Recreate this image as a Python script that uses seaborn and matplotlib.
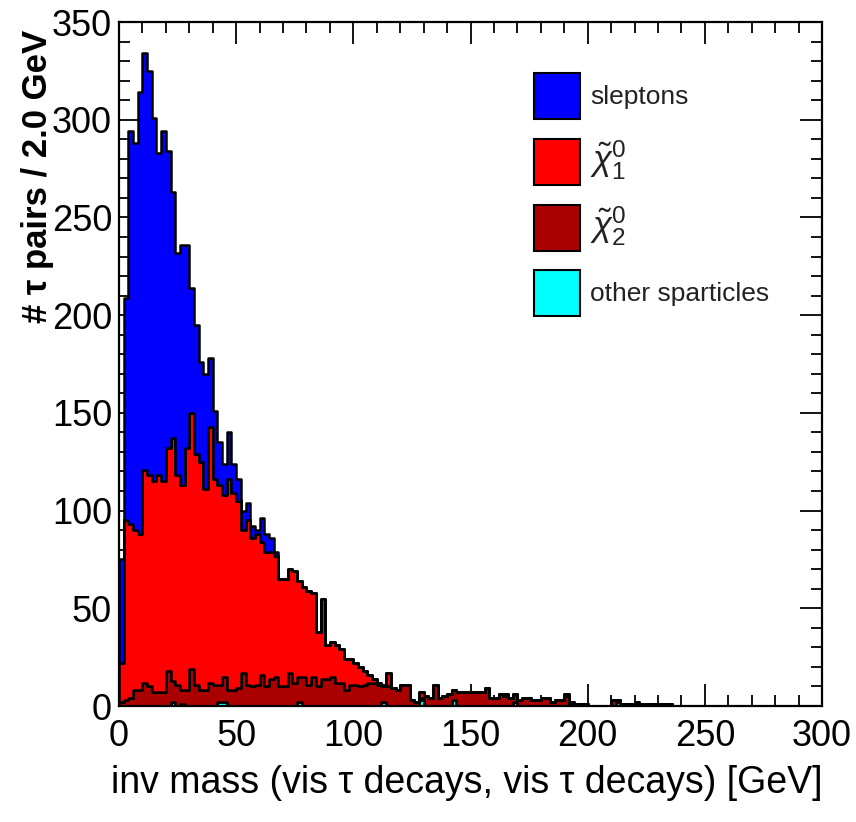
import numpy as np
import pandas as pd
import matplotlib
matplotlib.use("Agg")
import matplotlib.pyplot as plt
from matplotlib.patches import Patch
from matplotlib.ticker import MultipleLocator
import seaborn as sns

# ---------------- data (entries per 2 GeV bin, starting at 0 GeV) ----------------
bin_width = 2.0
x_range = (0, 300)
y_range = (0, 350)

sleptons = [53, 114, 201, 198, 226, 213, 207, 186, 165, 179,
            152, 126, 114, 123, 104, 64, 66, 51, 59, 35,
            35, 22, 16, 24, 15, 11, 10, 9, 6, 2,
            12, 9, 7, 2]

chi1 = [20, 92, 89, 82, 80, 109, 108, 108, 111, 108,
        114, 124, 107, 105, 124, 131, 118, 117, 103, 131,
        105, 102, 93, 108, 101, 96, 73, 84, 76, 77,
        68, 69, 65, 62, 55, 55, 53, 57, 49, 46,
        48, 43, 28, 41, 17, 18, 19, 17, 16, 13,
        11, 10, 7, 4, 2, 1, 1, 7, 0, 0,
        0, 0, 0, 0, 3, 0, 0, 0, 0, 0,
        0, 0, 0, 0, 0, 0, 0, 0, 0, 0,
        0, 0, 1, 0, 0, 0, 0, 0, 0, 0,
        0, 0, 0, 0, 0, 1, 1, 0, 0, 0,
        0, 0, 0, 0, 0, 0, 0, 0, 0, 0,
        1]

chi2 = [2, 3, 4, 8, 8, 12, 10, 7, 7, 7,
        18, 11, 11, 7, 8, 19, 11, 8, 8, 12,
        11, 9, 13, 8, 8, 9, 17, 11, 10, 11,
        16, 10, 14, 15, 10, 10, 17, 12, 13, 15,
        11, 15, 10, 14, 14, 15, 12, 12, 8, 11,
        11, 10, 11, 12, 12, 11, 8, 10, 9, 8,
        11, 11, 3, 2, 1, 5, 4, 11, 4, 5,
        6, 5, 7, 7, 7, 7, 7, 7, 9, 4,
        4, 6, 5, 4, 4, 3, 4, 4, 3, 3,
        4, 4, 2, 3, 3, 5, 1, 1, 1, 1,
        0, 0, 0, 0, 0, 3, 1, 1, 1, 1,
        1, 1, 1, 1, 1, 1, 1, 1]

other = [0, 0, 0, 0, 0, 0, 0, 0, 0, 0,
         0, 2, 0, 1, 0, 0, 0, 0, 0, 0,
         0, 2, 2, 0, 0, 0, 0, 0, 0, 0,
         0, 0, 0, 0, 0, 0, 0, 0, 2, 0,
         0, 0, 0, 0, 0, 0, 0, 0, 0, 0,
         0, 0, 0, 0, 0, 0, 2, 0, 0, 0,
         0, 0, 0, 0, 3, 0, 0, 0, 0, 0,
         0, 3, 0, 0, 0, 0, 0, 0, 0, 0,
         0, 0, 0, 0, 2, 0, 0, 0, 0, 0,
         0, 0, 0, 0, 0, 0, 0, 0, 0, 0,
         0, 0, 0, 0, 0, 0, 2]

series_names = ["sleptons", "chi1", "chi2", "other"]
series_values = [sleptons, chi1, chi2, other]
legend_labels = ["sleptons", r"$\tilde{\chi}^{0}_{1}$", r"$\tilde{\chi}^{0}_{2}$", "other sparticles"]
colors = ["#0000FF", "#FF0000", "#AA0000", "#00FFFF"]

x_label = "inv mass (vis \u03c4 decays, vis \u03c4 decays) [GeV]"
y_label = "# \u03c4 pairs / 2.0 GeV"

# long-form table: one row per (series, bin) with the bin centre as x and entries as weight
rows = []
for name, vals in zip(series_names, series_values):
    for i, v in enumerate(vals):
        rows.append({"mass": x_range[0] + bin_width * (i + 0.5), "entries": float(v), "source": name})
df = pd.DataFrame(rows)

# ---------------- styling ----------------
sns.set_style("ticks")
plt.rcParams["font.family"] = ["Liberation Sans", "DejaVu Sans"]
plt.rcParams["text.color"] = "black"
plt.rcParams["axes.labelcolor"] = "black"
plt.rcParams["mathtext.fontset"] = "custom"
plt.rcParams["mathtext.rm"] = "Liberation Sans"
plt.rcParams["mathtext.it"] = "Liberation Sans:italic"
plt.rcParams["mathtext.bf"] = "Liberation Sans:bold"

W, H = 856, 822
fig = plt.figure(figsize=(W / 100, H / 100), dpi=100)
ax = fig.add_axes([119 / W, 1 - 706 / H, (822 - 119) / W, (706 - 22) / H])

sns.histplot(data=df, x="mass", weights="entries", hue="source",
             hue_order=series_names, palette=dict(zip(series_names, colors)),
             multiple="stack", binwidth=bin_width, binrange=x_range,
             element="step", fill=True,
             alpha=1.0, edgecolor="black", linewidth=1.8, legend=False, ax=ax)

ax.set_xlim(*x_range)
ax.set_ylim(*y_range)
ax.xaxis.set_major_locator(MultipleLocator(50))
ax.xaxis.set_minor_locator(MultipleLocator(10))
ax.yaxis.set_major_locator(MultipleLocator(50))
ax.yaxis.set_minor_locator(MultipleLocator(10))
ax.tick_params(which="both", direction="in", top=True, right=True, width=1.3, colors="black")
ax.tick_params(which="major", length=15.5, labelsize=26)
ax.tick_params(which="minor", length=8)
ax.tick_params(axis="x", which="major", pad=9)
ax.tick_params(axis="y", which="major", pad=5)
for sp in ax.spines.values():
    sp.set_linewidth(1.6)
    sp.set_color("black")

ax.set_xlabel(x_label, loc="right", fontsize=27, labelpad=8, color="black")
ax.set_ylabel(y_label, loc="top", fontsize=25, fontweight="bold", color="black")
ax.yaxis.set_label_coords((54 - 119) / (822 - 119), (706 - 30) / (706 - 22))

handles = [Patch(facecolor=c, edgecolor="black", linewidth=1.5) for c in colors]
fs = 19
leg = ax.legend(handles, legend_labels, loc="upper left",
                bbox_to_anchor=(534 / W, 1 - 73 / H), bbox_transform=fig.transFigure,
                frameon=False, fontsize=fs, handlelength=1.74, handleheight=2.3,
                labelspacing=0.72, handletextpad=0.38, borderpad=0, borderaxespad=0)
for i, t in enumerate(leg.get_texts()):
    t.set_color("#222222")
    if legend_labels[i].startswith("$"):
        t.set_fontsize(25)

fig.savefig("out.png", dpi=100, facecolor="white")
